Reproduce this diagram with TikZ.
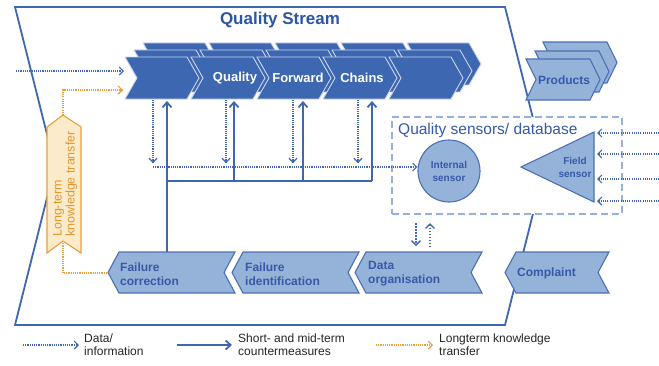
\documentclass[tikz,border=0pt]{standalone}
\usepackage{fontspec}
\setmainfont{Liberation Sans}
\usetikzlibrary{arrows.meta}

\definecolor{streamblue}{HTML}{3F66B0}
\definecolor{chevdark}{HTML}{3E67B2}
\definecolor{chevedge}{HTML}{C8D5EE}
\definecolor{lightfill}{HTML}{95B3D9}
\definecolor{lightedge}{HTML}{4A70B5}
\definecolor{labelblue}{HTML}{3659A8}
\definecolor{titleblue}{HTML}{2D55A5}
\definecolor{dotblue}{HTML}{4068B4}
\definecolor{boxdash}{HTML}{93B1DB}
\definecolor{ltorange}{HTML}{E8A03A}
\definecolor{ltorangefill}{HTML}{FCEBCB}
\definecolor{ltorangetext}{HTML}{E0982C}

% right-pointing chevron: style, x, ytop, width, height, tip depth
\newcommand{\rchev}[6]{%
  \path[#1] (#2,#3) -- ({#2+#4},#3) -- ({#2+#4+#6},{#3+#5/2}) -- ({#2+#4},{#3+#5})
    -- (#2,{#3+#5}) -- ({#2+#6},{#3+#5/2}) -- cycle;}
% left-pointing chevron: style, xleft, ytop, xright, height, tip depth
\newcommand{\lchev}[6]{%
  \path[#1] (#2,#3) -- (#4,#3) -- ({#4-#6},{#3+#5/2}) -- (#4,{#3+#5})
    -- (#2,{#3+#5}) -- ({#2-#6},{#3+#5/2}) -- cycle;}

\begin{document}
\begin{tikzpicture}[x=1pt,y=-1pt,
  band/.style={draw=streamblue, line width=1.8pt, line join=miter},
  darkchev/.style={fill=chevdark, draw=chevedge, line width=0.9pt},
  lightchev/.style={fill=lightfill, draw=lightedge, line width=1.1pt},
  chevtext/.style={text=white, inner sep=0pt, font=\bfseries\fontsize{13}{15}\selectfont},
  lighttext/.style={text=labelblue, inner sep=0pt, align=left, font=\bfseries\fontsize{12}{14}\selectfont},
  sensortext/.style={text=labelblue, inner sep=0pt, align=center, font=\bfseries\fontsize{10}{13}\selectfont},
  dataflow/.style={draw=dotblue, line width=1.2pt, dash pattern=on 1.1pt off 1.1pt,
    -{Straight Barb[length=4pt,width=8pt,line width=1.1pt]}},
  dataflowbold/.style={draw=dotblue, line width=1.7pt, dash pattern=on 1.5pt off 1.5pt,
    -{Straight Barb[length=4.5pt,width=9pt,line width=1.4pt]}},
  measure/.style={draw=streamblue, line width=1.8pt,
    -{Straight Barb[length=5pt,width=9pt]}},
  knowflow/.style={draw=ltorange, line width=1.2pt, dash pattern=on 1.1pt off 1.1pt,
    -{Straight Barb[length=4pt,width=8pt,line width=1.1pt]}},
  legendtext/.style={anchor=west, align=left, inner sep=0pt, text=black!85,
    font=\fontsize{12}{13}\selectfont}]

\useasboundingbox (0,0) rectangle (659,365);
\fill[white] (0,0) rectangle (659,365);

% quality stream band
\draw[band] (15,7) -- (505,7) -- (545,166) -- (505,325) -- (15,325) -- (55,166) -- cycle;
\node[text=titleblue, font=\bfseries\fontsize{17}{20}\selectfont] (title) at (280,20) {Quality Stream};

% sensor / database area
\node[draw=boxdash, line width=1.5pt, dash pattern=on 7pt off 4pt, fill=white,
  minimum width=230pt, minimum height=97pt, anchor=north west, inner sep=0pt] (sensors) at (391,116) {};
\node[anchor=base west, inner sep=0pt, text=labelblue, font=\fontsize{15.5}{17}\selectfont]
  (sensorslabel) at (398,134) {Quality sensors/ database};
\node[circle, lightchev, minimum size=62pt, inner sep=0pt] (internal) at (449,171) {};
\node[sensortext] (internallabel) at (449,171) {Internal\\sensor};
\coordinate (fieldtip) at (521,167);
\coordinate (fieldtop) at (594,132);
\coordinate (fieldbot) at (594,202);
\path[lightchev] (fieldtip) -- (fieldtop) -- (fieldbot) -- cycle;
\node[sensortext] (fieldlabel) at (575,167) {Field\\sensor};

% quality forward chains: three stacked rows of chevrons
\foreach \off in {18,9,0}{
  \foreach \i in {0,...,4}{
    \rchev{darkchev}{125+66*\i+\off}{57-0.78*\off}{62}{42}{12}
  }
}
\node[chevtext] (cquality) at (235,78) {Quality};
\node[chevtext] (cforward) at (298,78) {Forward};
\node[chevtext] (cchains) at (362,78) {Chains};

% products stack
\rchev{lightchev}{543}{42}{64}{41}{10}
\rchev{lightchev}{535}{51}{64}{41}{10}
\rchev{lightchev}{526}{59}{64}{41}{10}
\node[lighttext] (products) at (564,80) {Products};

% long-term knowledge transfer arrow
\path[fill=ltorangefill, draw=ltorange, line width=1.1pt]
  (47,127) -- (63,115) -- (81,127) -- (81,253) -- (63,241) -- (47,253) -- cycle;
\coordinate (ktop) at (63,115);
\coordinate (kbot) at (63,241);
\node[rotate=90, align=left, inner sep=0pt, text=ltorangetext,
  font=\fontsize{12.5}{13}\selectfont] (klabel) at (65,184) {Long-term\\knowledge transfer};

% bottom process chevrons
\lchev{lightchev}{119}{252}{235}{41}{11}
\lchev{lightchev}{243}{252}{359}{41}{11}
\lchev{lightchev}{366}{252}{482}{41}{11}
\lchev{lightchev}{516}{252}{609}{41}{11}
\node[lighttext, anchor=west] (fcorr) at (120,274) {Failure\\correction};
\node[lighttext, anchor=west] (fident) at (245,274) {Failure\\identification};
\node[lighttext, anchor=west] (dorg) at (368,274) {Data\\organisation};
\node[lighttext, anchor=west] (compl) at (517,273) {Complaint};
\coordinate (fctip) at (108,273);

% data inputs to the chains
\coordinate (datain) at (16,71);
\coordinate (chainin) at (124,71);
\draw[dataflow] (datain) -- (chainin);
\coordinate (knowin) at (123,90);
\draw[knowflow] (ktop) |- (knowin);
\draw[draw=ltorange, line width=1.2pt, dash pattern=on 1.1pt off 1.1pt] (kbot) |- (fctip);

% data taken from the chains
\foreach \x [count=\n] in {153,226,293,358}{
  \coordinate (dtop\n) at (\x,100);
  \coordinate (dbot\n) at (\x,163);
  \draw[dataflow] (dtop\n) -- (dbot\n);
}
\coordinate (hstart) at (153,167);
\draw[dataflow] (hstart) -- (hstart -| internal.west);

% countermeasures fed back to the chains
\coordinate (fctop) at (167,252);
\coordinate (mjoin) at (167,181);
\coordinate (mend) at (372,181);
\draw[streamblue, line width=1.8pt] (mjoin) -- (mend);
\draw[measure] (fctop) -- (167,101);
\foreach \x [count=\n] in {234,303,372}{
  \coordinate (mfoot\n) at (\x,181);
  \coordinate (mhead\n) at (\x,101);
  \draw[measure] (mfoot\n) -- (mhead\n);
}

% field data
\foreach \y [count=\n] in {133,154,179,201}{
  \coordinate (fin\n) at (659,\y);
  \coordinate (fout\n) at (597,\y);
  \draw[dataflow] (fin\n) -- (fout\n);
}

% exchange between database and data organisation
\coordinate (xa1) at (416,223);
\coordinate (xa2) at (416,246);
\coordinate (xb1) at (430,247);
\coordinate (xb2) at (430,223);
\draw[dataflowbold] (xa1) -- (xa2);
\draw[dataflowbold] (xb1) -- (xb2);

% legend
\coordinate (l1a) at (23,345);  \coordinate (l1b) at (79,345);
\coordinate (l2a) at (177,345); \coordinate (l2b) at (232,345);
\coordinate (l3a) at (376,345); \coordinate (l3b) at (433,345);
\draw[dataflow] (l1a) -- (l1b);
\draw[measure] (l2a) -- (l2b);
\draw[knowflow] (l3a) -- (l3b);
\node[legendtext] (leg1) at (84,345) {Data/\\information};
\node[legendtext] (leg2) at (238,345) {Short- and mid-term\\countermeasures};
\node[legendtext] (leg3) at (439,345) {Longterm knowledge\\transfer};

\end{tikzpicture}
\end{document}
